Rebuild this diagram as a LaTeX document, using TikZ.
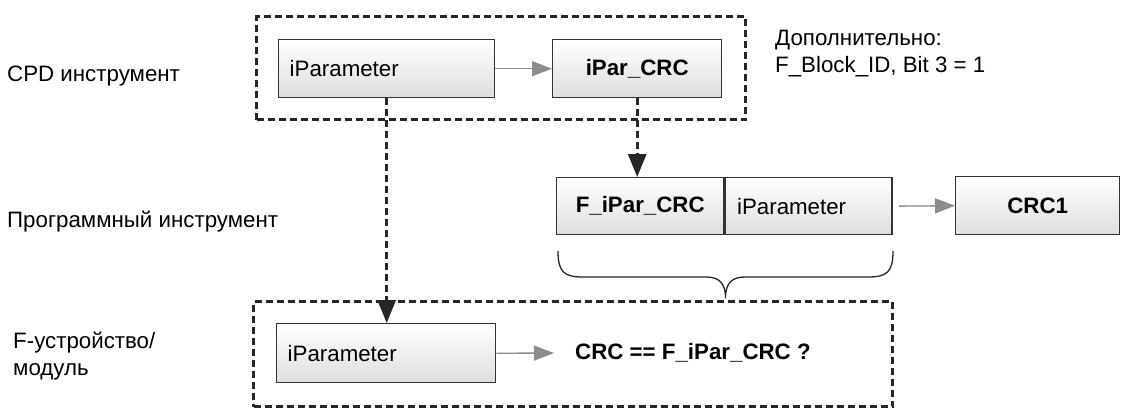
\documentclass[tikz,border=0pt]{standalone}
\usepackage{fontspec}
\setmainfont{Liberation Sans}
\usetikzlibrary{arrows.meta,calc}
\begin{document}
\begin{tikzpicture}[x=1pt,y=-1pt,
  every node/.style={font=\fontsize{22.3}{27}\selectfont},
  blk/.style={draw=black!80, line width=1.4pt, top color=white, bottom color=black!13, inner sep=0pt, anchor=north west},
  grp/.style={draw=black!85, line width=3pt, dash pattern=on 7pt off 4pt, inner sep=0pt, anchor=north west},
  garr/.style={draw=black!45, line width=1.3pt, -{Triangle[length=20pt,width=15pt,fill=black!45]}},
  darr/.style={draw=black!85, line width=3pt, dash pattern=on 7pt off 4pt, -{Triangle[length=23pt,width=18pt,fill=black!85]}},
  lbl/.style={anchor=west, inner sep=0pt, align=left},
  brc/.style={draw=black!85, line width=1.3pt}
]
\useasboundingbox (0,0) rectangle (1124,407);
% labels
\node[lbl] (l1) at (7,76) {CPD инструмент};
\node[lbl] (l2) at (7,222) {Программный инструмент};
\node[lbl] (l3) at (13,356) {F-устройство/\\модуль};
\node[lbl] (note) at (775,54) {Дополнительно:\\F\_Block\_ID, Bit 3 = 1};
% top group
\node[grp, minimum width=489pt, minimum height=103pt] (cpd) at (255,15) {};
\node[blk, text width=194pt, inner xsep=11pt, minimum height=58pt, align=left] (ipA) at (278,39) {iParameter};
\node[blk, minimum width=169pt, minimum height=58pt] (crc) at (552,39) {\textbf{iPar\_CRC}};
\draw[garr] (ipA.east) -- (crc.west);
% middle
\node[blk, minimum width=167pt, minimum height=57pt] (fcrc) at (556,177) {\textbf{F\_iPar\_CRC}};
\node[blk, text width=143pt, inner xsep=12pt, minimum height=57pt, align=left] (ipB) at (fcrc.north east) {iParameter};
\node[blk, minimum width=164pt, minimum height=58pt] (crc1) at (955,176) {\textbf{CRC1}};
\draw[garr, shorten <=6pt] (ipB.east) -- (crc1.west);
% brace
\coordinate (b1) at (558,251);
\coordinate (b2) at (893,251);
\coordinate (bt) at (725.5,298);
\draw[brc] (b1) .. controls (558,272) and (564,277) .. (583,277) -- (706,277)
  .. controls (719,277) and (725.5,283) .. (bt)
  .. controls (725.5,283) and (732,277) .. (745,277) -- (868,277)
  .. controls (887,277) and (893,272) .. (b2);
% bottom group
\node[grp, minimum width=639pt, minimum height=105pt] (fdev) at (252,300) {};
\node[blk, text width=197pt, inner xsep=11pt, minimum height=59pt, align=left] (ipC) at (276,323) {iParameter};
\node[anchor=west, inner sep=0pt] (cmp) at (575,353) {\textbf{CRC == F\_iPar\_CRC ?}};
\draw[garr, shorten >=21pt] (ipC.east) -- (cmp.west);
% dashed arrows
\draw[darr] (ipA.south) -- (ipA.south |- ipC.north);
\draw[darr] (crc.south) -- (crc.south |- fcrc.north);
\end{tikzpicture}
\end{document}
